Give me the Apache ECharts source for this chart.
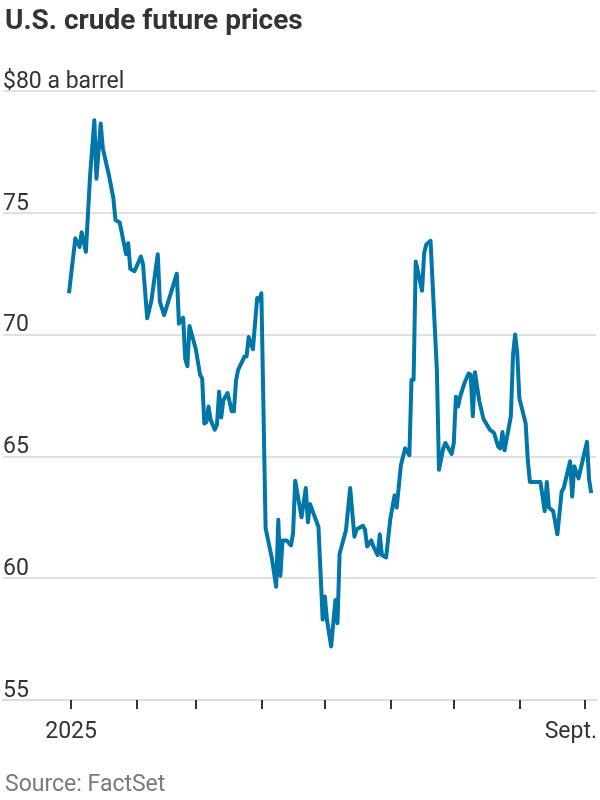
<!DOCTYPE html>
<html>
<head>
<meta charset="utf-8">
<script src="https://cdn.jsdelivr.net/npm/echarts@6/dist/echarts.min.js"></script>
<style>
  html, body { margin: 0; padding: 0; background: #fff; }
  #chart { width: 600px; height: 800px; }
</style>
</head>
<body>
<div id="chart"></div>
<script>
  // daily closes, $ a barrel
  var dates = [
    '2024-12-31', '2025-01-03', '2025-01-05', '2025-01-06', '2025-01-08', '2025-01-10', '2025-01-12', '2025-01-13',
    '2025-01-15', '2025-01-16', '2025-01-19', '2025-01-21', '2025-01-22', '2025-01-24', '2025-01-27', '2025-01-28',
    '2025-01-29', '2025-01-31', '2025-02-03', '2025-02-04', '2025-02-06', '2025-02-08', '2025-02-11', '2025-02-12',
    '2025-02-14', '2025-02-20', '2025-02-21', '2025-02-23', '2025-02-24', '2025-02-25', '2025-02-26', '2025-03-01',
    '2025-03-03', '2025-03-04', '2025-03-05', '2025-03-06', '2025-03-07', '2025-03-08', '2025-03-10', '2025-03-11',
    '2025-03-12', '2025-03-13', '2025-03-14', '2025-03-16', '2025-03-18', '2025-03-19', '2025-03-20', '2025-03-21',
    '2025-03-24', '2025-03-25', '2025-03-26', '2025-03-28', '2025-03-30', '2025-03-31', '2025-04-01', '2025-04-03',
    '2025-04-06', '2025-04-08', '2025-04-09', '2025-04-10', '2025-04-11', '2025-04-13', '2025-04-15', '2025-04-16',
    '2025-04-17', '2025-04-20', '2025-04-22', '2025-04-23', '2025-04-24', '2025-04-28', '2025-04-30', '2025-05-01',
    '2025-05-02', '2025-05-04', '2025-05-06', '2025-05-07', '2025-05-08', '2025-05-11', '2025-05-13', '2025-05-15',
    '2025-05-16', '2025-05-19', '2025-05-20', '2025-05-21', '2025-05-23', '2025-05-24', '2025-05-26', '2025-05-27',
    '2025-05-28', '2025-05-30', '2025-06-01', '2025-06-03', '2025-06-04', '2025-06-06', '2025-06-08', '2025-06-10',
    '2025-06-11', '2025-06-12', '2025-06-13', '2025-06-16', '2025-06-17', '2025-06-18', '2025-06-20', '2025-06-23',
    '2025-06-24', '2025-06-26', '2025-06-27', '2025-06-30', '2025-07-01', '2025-07-02', '2025-07-03', '2025-07-04',
    '2025-07-06', '2025-07-08', '2025-07-09', '2025-07-10', '2025-07-11', '2025-07-13', '2025-07-15', '2025-07-18',
    '2025-07-20', '2025-07-22', '2025-07-23', '2025-07-24', '2025-07-25', '2025-07-28', '2025-07-29', '2025-07-30',
    '2025-07-31', '2025-08-01', '2025-08-04', '2025-08-05', '2025-08-06', '2025-08-11', '2025-08-13', '2025-08-14',
    '2025-08-15', '2025-08-17', '2025-08-19', '2025-08-21', '2025-08-22', '2025-08-25', '2025-08-26', '2025-08-27',
    '2025-08-29', '2025-09-02', '2025-09-03', '2025-09-04'
  ];
  var prices = [
    71.7, 73.95, 73.6, 74.2, 73.4, 76.55, 78.8, 76.4,
    78.67, 77.65, 76.5, 75.6, 74.7, 74.6, 73.3, 73.75,
    72.7, 72.6, 73.2, 72.9, 70.67, 71.4, 73.3, 71.35,
    70.8, 72.5, 70.45, 70.7, 69.0, 68.7, 70.35, 69.4,
    68.35, 68.2, 66.35, 66.4, 67.05, 66.5, 66.1, 66.3,
    67.65, 66.6, 67.3, 67.6, 66.85, 66.85, 68.1, 68.55,
    69.1, 69.1, 69.9, 69.4, 71.5, 71.4, 71.7, 62.05,
    60.8, 59.65, 62.4, 60.1, 61.55, 61.55, 61.35, 61.85,
    64.0, 62.5, 63.7, 62.3, 63.05, 62.1, 58.3, 59.25,
    58.3, 57.2, 59.1, 58.15, 61.0, 61.97, 63.7, 61.7,
    62.0, 62.15, 62.0, 61.3, 61.55, 61.3, 60.95, 61.8,
    60.95, 60.85, 62.45, 63.4, 62.9, 64.65, 65.33, 65.05,
    68.15, 68.15, 73.0, 71.8, 73.35, 73.7, 73.85, 68.55,
    64.45, 65.33, 65.55, 65.1, 65.55, 67.45, 67.05, 67.45,
    68.0, 68.4, 68.35, 66.65, 68.45, 67.3, 66.55, 66.1,
    65.97, 65.4, 65.33, 66.0, 65.25, 66.65, 69.15, 70.0,
    69.25, 67.4, 66.35, 64.85, 63.95, 63.95, 62.75, 63.95,
    62.9, 62.75, 61.8, 63.55, 63.7, 64.8, 63.35, 64.6,
    64.1, 65.6, 64.05, 63.5
  ];
  var monthTicks = ['2025-01-01', '2025-02-01', '2025-03-01', '2025-04-01', '2025-05-01',
    '2025-06-01', '2025-07-01', '2025-08-01', '2025-09-01'];
  var xLabels = ['2025-01-01', '2025-09-01'];
  var yMin = 55, yMax = 80, yStep = 5;

  var DAY = 864e5;
  function ts(s) { var p = s.split('-'); return new Date(+p[0], +p[1] - 1, +p[2]).getTime(); }

  var chart = echarts.init(document.getElementById('chart'));
  var labelFont = "Roboto, sans-serif";

  var option = {
    animation: false,
    title: [
      {
        text: 'U.S. crude future prices',
        left: 0, top: 3,
        textStyle: { fontFamily: labelFont, fontWeight: 'bold', fontSize: 28, color: '#333' }
      },
      {
        text: 'Source: FactSet',
        left: 0, top: 769,
        textStyle: { fontFamily: labelFont, fontWeight: 'normal', fontSize: 23, color: '#7a7a7a' }
      }
    ],
    grid: { left: 0, right: 0, top: 91, bottom: 100 },
    // dates go on a plain value axis as timestamps so ticks can sit on month starts
    xAxis: {
      type: 'value',
      min: ts('2025-01-01') - 32.2 * DAY,
      max: ts('2025-09-01') + 5.3 * DAY,
      axisLine: { show: true, lineStyle: { color: '#ddd', width: 2 } },
      axisTick: {
        show: true, length: 9, inside: false,
        lineStyle: { color: '#333', width: 2 },
        customValues: monthTicks.map(ts)
      },
      axisLabel: {
        customValues: xLabels.map(ts),
        margin: 21,
        fontFamily: labelFont, fontSize: 23, color: '#333',
        formatter: function (v) {
          return new Date(v).getMonth() === 0 ? '2025' : '{s|Sept.}';
        },
        rich: { s: { fontFamily: labelFont, fontSize: 23, color: '#333', padding: [0, 28, 0, 0] } }
      },
      splitLine: { show: false }
    },
    yAxis: {
      type: 'value',
      min: yMin, max: yMax, interval: yStep,
      axisLine: { show: false },
      axisTick: { show: false },
      axisLabel: {
        inside: true,
        margin: 0,
        verticalAlign: 'bottom',
        lineHeight: 18,
        fontFamily: labelFont, fontSize: 23, color: '#333',
        formatter: function (v) { return v === yMax ? '$' + v + ' a barrel' : String(v); }
      },
      splitLine: { show: true, lineStyle: { color: '#e0e0e0', width: 2 } }
    },
    series: [
      {
        type: 'line',
        showSymbol: false,
        data: dates.map(function (d, i) { return [ts(d), prices[i]]; }),
        lineStyle: { color: '#0077a8', width: 4, join: 'round' },
        itemStyle: { color: '#0077a8' }
      }
    ]
  };
  chart.setOption(option);
</script>
</body>
</html>
